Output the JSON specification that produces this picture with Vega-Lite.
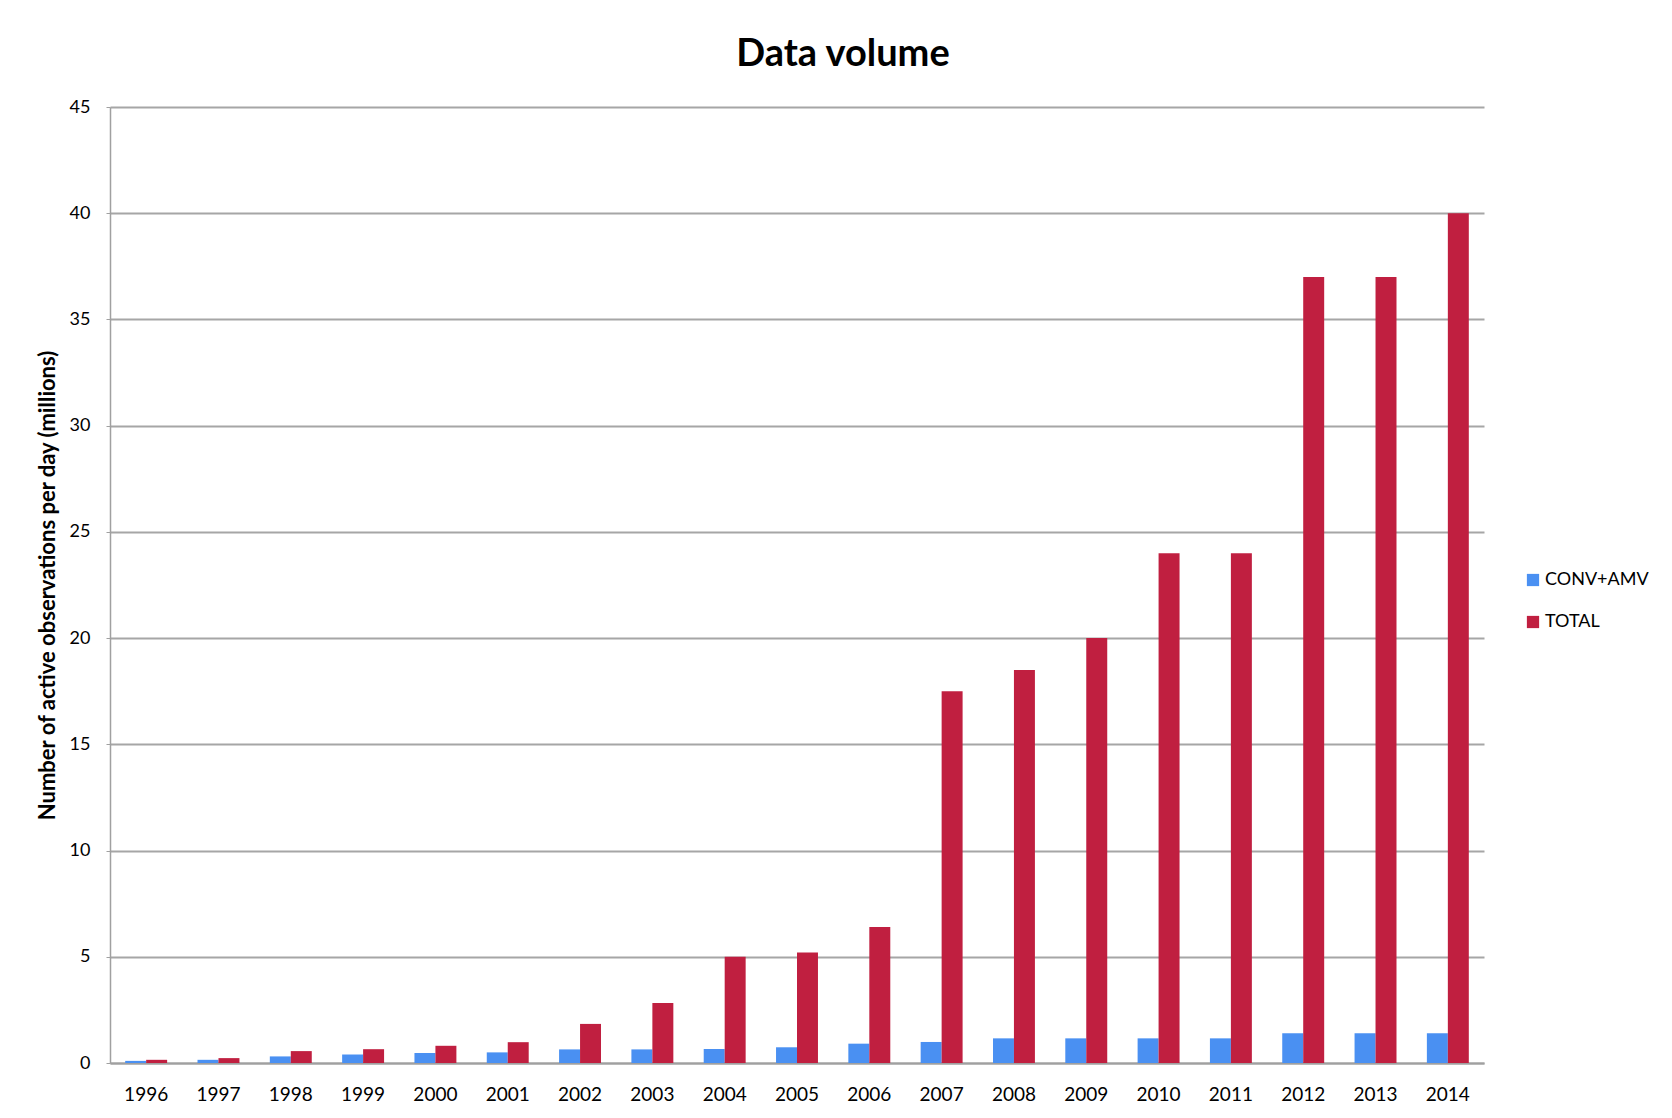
{
  "$schema": "https://vega.github.io/schema/vega-lite/v6.json",
  "autosize": {"type": "none"},
  "width": 1374,
  "height": 956,
  "padding": {"left": 110, "top": 107, "right": 188, "bottom": 55},
  "background": "white",
  "title": {
    "text": "Data volume",
    "font": "Lato",
    "fontSize": 38,
    "fontWeight": "bold",
    "color": "#000000",
    "anchor": "middle",
    "dx": 46,
    "offset": 24
  },
  "data": {
    "values": [
      {"year": "1996", "series": "CONV+AMV", "value": 0.1},
      {"year": "1996", "series": "TOTAL", "value": 0.15},
      {"year": "1997", "series": "CONV+AMV", "value": 0.15},
      {"year": "1997", "series": "TOTAL", "value": 0.23},
      {"year": "1998", "series": "CONV+AMV", "value": 0.31},
      {"year": "1998", "series": "TOTAL", "value": 0.56},
      {"year": "1999", "series": "CONV+AMV", "value": 0.4},
      {"year": "1999", "series": "TOTAL", "value": 0.65},
      {"year": "2000", "series": "CONV+AMV", "value": 0.47},
      {"year": "2000", "series": "TOTAL", "value": 0.81},
      {"year": "2001", "series": "CONV+AMV", "value": 0.5},
      {"year": "2001", "series": "TOTAL", "value": 0.98},
      {"year": "2002", "series": "CONV+AMV", "value": 0.64},
      {"year": "2002", "series": "TOTAL", "value": 1.84},
      {"year": "2003", "series": "CONV+AMV", "value": 0.64},
      {"year": "2003", "series": "TOTAL", "value": 2.83},
      {"year": "2004", "series": "CONV+AMV", "value": 0.66},
      {"year": "2004", "series": "TOTAL", "value": 5.0},
      {"year": "2005", "series": "CONV+AMV", "value": 0.74},
      {"year": "2005", "series": "TOTAL", "value": 5.2},
      {"year": "2006", "series": "CONV+AMV", "value": 0.91},
      {"year": "2006", "series": "TOTAL", "value": 6.4},
      {"year": "2007", "series": "CONV+AMV", "value": 0.99},
      {"year": "2007", "series": "TOTAL", "value": 17.5},
      {"year": "2008", "series": "CONV+AMV", "value": 1.16},
      {"year": "2008", "series": "TOTAL", "value": 18.5},
      {"year": "2009", "series": "CONV+AMV", "value": 1.16},
      {"year": "2009", "series": "TOTAL", "value": 20.0},
      {"year": "2010", "series": "CONV+AMV", "value": 1.16},
      {"year": "2010", "series": "TOTAL", "value": 24.0},
      {"year": "2011", "series": "CONV+AMV", "value": 1.16},
      {"year": "2011", "series": "TOTAL", "value": 24.0},
      {"year": "2012", "series": "CONV+AMV", "value": 1.4},
      {"year": "2012", "series": "TOTAL", "value": 37.0},
      {"year": "2013", "series": "CONV+AMV", "value": 1.4},
      {"year": "2013", "series": "TOTAL", "value": 37.0},
      {"year": "2014", "series": "CONV+AMV", "value": 1.4},
      {"year": "2014", "series": "TOTAL", "value": 40.0}
    ]
  },
  "mark": {"type": "bar"},
  "encoding": {
    "x": {
      "field": "year",
      "type": "nominal",
      "scale": {"paddingInner": 0.42, "paddingOuter": 0.21},
      "axis": {
        "title": null,
        "labelAngle": 0,
        "labelFont": "Lato",
        "labelFontSize": 19,
        "labelColor": "#000000",
        "labelPadding": 22,
        "ticks": false,
        "domainColor": "#a0a0a0",
        "domainWidth": 2
      }
    },
    "xOffset": {"field": "series", "type": "nominal", "sort": ["CONV+AMV", "TOTAL"]},
    "y": {
      "field": "value",
      "type": "quantitative",
      "scale": {"domain": [0, 45], "nice": false},
      "axis": {
        "title": "Number of active observations  per day (millions)",
        "titleFont": "Lato",
        "titleFontSize": 22,
        "titleFontWeight": "bold",
        "titleColor": "#000000",
        "titlePadding": 10,
        "values": [0, 5, 10, 15, 20, 25, 30, 35, 40, 45],
        "labelFont": "Lato",
        "labelFontSize": 18,
        "labelColor": "#000000",
        "labelPadding": 16,
        "ticks": true,
        "tickSize": 4,
        "tickColor": "#a0a0a0",
        "domainColor": "#a0a0a0",
        "domainWidth": 1.5,
        "grid": true,
        "gridColor": "#a6a6a6",
        "gridWidth": 2
      }
    },
    "color": {
      "field": "series",
      "type": "nominal",
      "scale": {"domain": ["CONV+AMV", "TOTAL"], "range": ["#4a90f2", "#c01f40"]},
      "legend": {
        "title": null,
        "orient": "none",
        "legendX": 1414,
        "legendY": 464,
        "symbolType": "square",
        "symbolSize": 150,
        "symbolStrokeWidth": 0,
        "labelFont": "Lato",
        "labelFontSize": 18,
        "labelColor": "#000000",
        "labelOffset": 3,
        "rowPadding": 24
      }
    }
  },
  "config": {
    "view": {"stroke": null}
  }
}
